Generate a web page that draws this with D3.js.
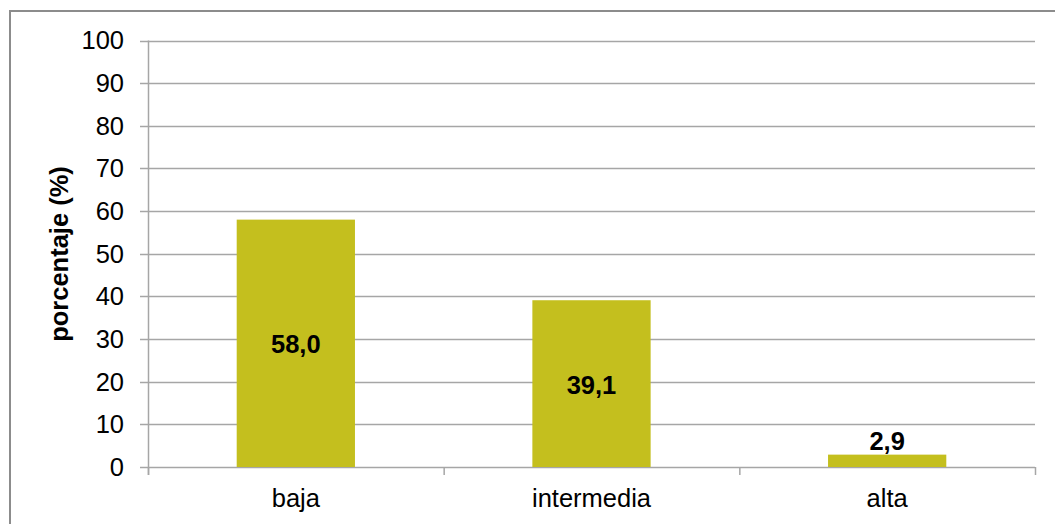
<!DOCTYPE html>
<html><head><meta charset="utf-8">
<script src="https://cdn.jsdelivr.net/npm/d3@7"></script>
<style>body{margin:0;background:#fff;}svg{display:block;font-family:"Liberation Sans",Arial,sans-serif;}</style>
</head><body>
<svg id="c" width="1055" height="524"></svg>
<script>
const categories = ["baja", "intermedia", "alta"];
const values = [58.0, 39.1, 2.9];
const valueLabels = ["58,0", "39,1", "2,9"];
const yTicks = [0, 10, 20, 30, 40, 50, 60, 70, 80, 90, 100];
const yTitle = "porcentaje (%)";

(function () {
const svg = d3.select("#c");
const FS = 25.5;
// outer frame
svg.append("rect").attr("x", 10).attr("y", 11).attr("width", 1100).attr("height", 600)
  .attr("fill", "none").attr("stroke", "#8c8c8c").attr("stroke-width", 2);

const pL = 148, pR = 1035, pT = 40.5, pB = 467;
const x = d3.scaleBand().domain(categories).range([pL, pR]).paddingInner(0.6).paddingOuter(0.3);
const y = d3.scaleLinear().domain([0, 100]).range([pB, pT]);

// gridlines
svg.append("g").selectAll("line").data(yTicks).join("line")
  .attr("x1", pL - 8).attr("x2", pR)
  .attr("y1", d => Math.round(y(d)) + 0.5).attr("y2", d => Math.round(y(d)) + 0.5)
  .attr("stroke", "#a6a6a6").attr("stroke-width", 1.5);

// y axis line
svg.append("line").attr("x1", pL + 0.5).attr("x2", pL + 0.5)
  .attr("y1", y(100)).attr("y2", pB + 8).attr("stroke", "#a6a6a6").attr("stroke-width", 1.5);

// category boundary ticks
const band = (pR - pL) / categories.length;
svg.append("g").selectAll("line").data(d3.range(categories.length + 1)).join("line")
  .attr("x1", i => pL + i * band + 0.5).attr("x2", i => pL + i * band + 0.5)
  .attr("y1", pB).attr("y2", pB + 8)
  .attr("stroke", "#a6a6a6").attr("stroke-width", 1.5);

// y tick labels
svg.append("g").selectAll("text").data(yTicks).join("text")
  .attr("x", 124).attr("y", d => y(d)).attr("dy", "0.35em")
  .attr("text-anchor", "end").attr("font-size", FS).attr("fill", "#000")
  .text(d => d);

// bars
svg.append("g").selectAll("rect").data(values).join("rect")
  .attr("x", (d, i) => x(categories[i])).attr("width", x.bandwidth())
  .attr("y", d => y(d)).attr("height", d => pB - y(d))
  .attr("fill", "#c4bf1e");

// value labels
svg.append("g").selectAll("text").data(values).join("text")
  .attr("x", (d, i) => x(categories[i]) + x.bandwidth() / 2)
  .attr("y", d => (pB - y(d) > 40) ? (y(d) + pB) / 2 + 1 : y(d) - 14)
  .attr("dy", "0.35em").attr("text-anchor", "middle")
  .attr("font-size", FS).attr("font-weight", "bold").attr("fill", "#000")
  .text((d, i) => valueLabels[i]);

// category labels
svg.append("g").selectAll("text").data(categories).join("text")
  .attr("x", d => x(d) + x.bandwidth() / 2).attr("y", 507)
  .attr("text-anchor", "middle").attr("font-size", FS).attr("fill", "#000")
  .text(d => d);

// y title
svg.append("text").attr("transform", "translate(68,254) rotate(-90)")
  .attr("text-anchor", "middle").attr("font-size", FS).attr("font-weight", "bold")
  .text(yTitle);
})();
</script>
</body></html>
